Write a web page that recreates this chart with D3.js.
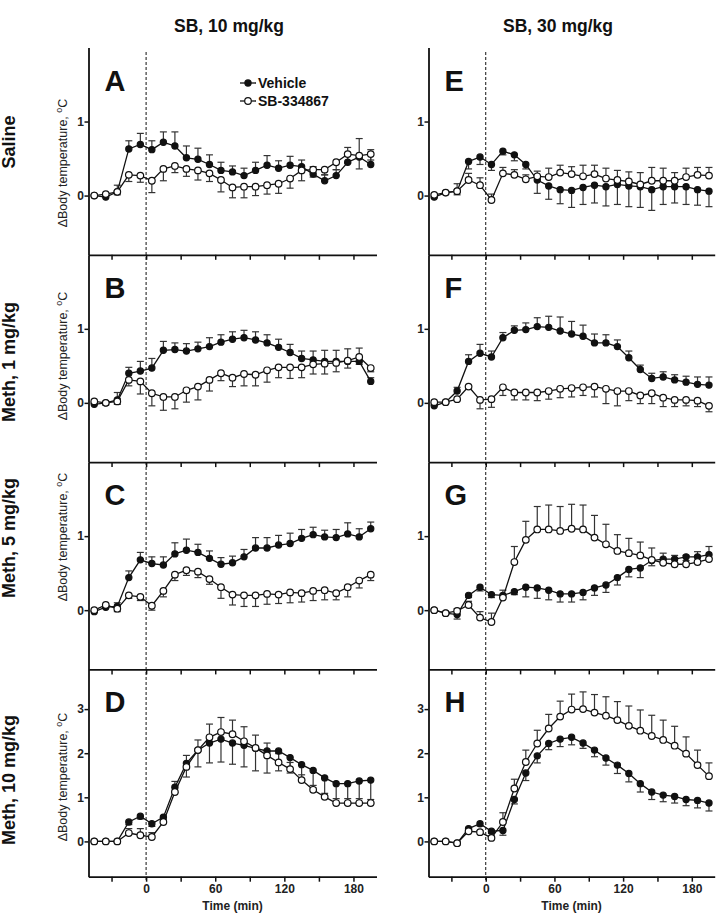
<!DOCTYPE html>
<html><head><meta charset="utf-8">
<script src="https://cdn.jsdelivr.net/npm/d3@7"></script>
<style>body{margin:0;background:#fff} svg{display:block}</style>
</head><body>
<svg id="chart" width="728" height="915"></svg>
<script>
// ---------- data ----------
const times = [-45,-35,-25,-15,-5,5,15,25,35,45,55,65,75,85,95,105,115,125,135,145,155,165,175,185,195];
const columnTitles = ["SB, 10 mg/kg", "SB, 30 mg/kg"];
const rowLabels = ["Saline", "Meth, 1 mg/kg", "Meth, 5 mg/kg", "Meth, 10 mg/kg"];
const panelLetters = ["A","B","C","D","E","F","G","H"];
const seriesNames = ["Vehicle", "SB-334867"];
const xTicks = [-30,0,30,60,90,120,150,180];
const xTickLabels = [0,60,120,180];
const yTicksLow = [0,1];
const yTicksHigh = [0,1,2,3];
const yDomainLow = [-0.8, 2.0];
const yDomainHigh = [-0.8, 3.9];
const yLabel = "\u0394Body temperature, ";
const xLabel = "Time (min)";

// Panel A
const vehA    = [0,-0.02,0.05,0.63,0.69,0.62,0.72,0.67,0.51,0.49,0.42,0.34,0.32,0.27,0.34,0.41,0.37,0.41,0.39,0.29,0.20,0.27,0.45,0.52,0.42];
const vehErrA = [0.01,0.02,0.09,0.11,0.15,0.12,0.14,0.19,0.16,0.15,0.13,0.11,0.08,0.10,0.11,0.13,0.10,0.12,0.09,0.10,0.08,0.08,0.20,0.25,0.20];
const sbA     = [0,0.02,0.05,0.28,0.27,0.20,0.36,0.40,0.36,0.34,0.30,0.21,0.11,0.12,0.12,0.14,0.16,0.23,0.34,0.35,0.35,0.45,0.56,0.54,0.56];
const sbErrA  = [0.01,0.02,0.04,0.09,0.09,0.16,0.16,0.09,0.10,0.13,0.11,0.16,0.14,0.15,0.12,0.12,0.13,0.13,0.14,0.10,0.07,0.10,0.12,0.18,0.08];
// Panel B
const vehB    = [-0.02,0.0,0.04,0.40,0.43,0.47,0.71,0.72,0.70,0.73,0.76,0.82,0.86,0.88,0.85,0.81,0.75,0.68,0.60,0.58,0.56,0.56,0.56,0.56,0.29];
const vehErrB = [0.01,0.02,0.10,0.08,0.13,0.13,0.12,0.09,0.10,0.09,0.12,0.10,0.10,0.10,0.11,0.11,0.11,0.11,0.10,0.12,0.15,0.15,0.17,0.18,0.05];
const sbB     = [0.02,0.0,0.02,0.31,0.29,0.13,0.08,0.08,0.17,0.22,0.31,0.40,0.34,0.39,0.38,0.44,0.48,0.48,0.48,0.52,0.53,0.54,0.57,0.62,0.47];
const sbErrB  = [0.01,0.03,0.04,0.08,0.17,0.17,0.18,0.16,0.16,0.18,0.15,0.10,0.12,0.16,0.15,0.16,0.14,0.15,0.14,0.13,0.14,0.12,0.10,0.10,0.05];
// Panel C
const vehC    = [-0.02,0.04,0.05,0.44,0.68,0.63,0.61,0.76,0.81,0.78,0.70,0.62,0.64,0.72,0.84,0.84,0.88,0.90,0.97,1.02,0.99,0.98,1.03,0.99,1.10];
const vehErrC = [0.01,0.02,0.05,0.09,0.10,0.09,0.11,0.15,0.15,0.11,0.10,0.09,0.09,0.10,0.14,0.14,0.13,0.14,0.12,0.10,0.09,0.11,0.15,0.11,0.09];
const sbC     = [0.0,0.07,0.02,0.20,0.18,0.06,0.26,0.48,0.54,0.52,0.42,0.31,0.21,0.20,0.20,0.22,0.21,0.24,0.23,0.26,0.27,0.23,0.31,0.40,0.48];
const sbErrC  = [0.01,0.03,0.04,0.04,0.05,0.06,0.08,0.08,0.07,0.08,0.07,0.15,0.14,0.15,0.15,0.14,0.12,0.14,0.12,0.13,0.13,0.09,0.13,0.10,0.08];
// Panel D
const vehD    = [0,0,0,0.44,0.57,0.40,0.55,1.23,1.77,2.07,2.23,2.32,2.23,2.18,2.11,2.05,2.05,1.90,1.74,1.61,1.44,1.31,1.31,1.37,1.39];
const vehErrD = [0.01,0.01,0.02,0.06,0.06,0.06,0.06,0.12,0.31,0.38,0.45,0.52,0.48,0.49,0.51,0.50,0.45,0.35,0.35,0.40,0.45,0.45,0.45,0.50,0.52];
const sbD     = [0,0,0,0.19,0.14,0.10,0.44,1.12,1.69,2.07,2.36,2.48,2.43,2.27,2.12,1.95,1.79,1.64,1.39,1.17,1.01,0.87,0.87,0.87,0.87];
const sbErrD  = [0.01,0.01,0.02,0.10,0.15,0.10,0.10,0.24,0.26,0.23,0.30,0.33,0.32,0.33,0.29,0.28,0.20,0.15,0.12,0.10,0.08,0.10,0.10,0.10,0.08];
// Panel E
const vehE    = [-0.02,0.04,0.06,0.46,0.52,0.42,0.60,0.55,0.42,0.21,0.13,0.08,0.07,0.11,0.14,0.12,0.15,0.13,0.12,0.08,0.12,0.12,0.12,0.08,0.06];
const vehErrE = [0.01,0.02,0.05,0.10,0.10,0.08,0.05,0.08,0.06,0.18,0.18,0.19,0.23,0.23,0.24,0.26,0.27,0.28,0.28,0.28,0.24,0.22,0.24,0.21,0.21];
const sbE     = [0.01,0.04,0.06,0.21,0.14,-0.06,0.30,0.28,0.22,0.26,0.25,0.31,0.29,0.26,0.29,0.23,0.21,0.19,0.15,0.20,0.20,0.20,0.25,0.28,0.27];
const sbErrE  = [0.01,0.02,0.10,0.09,0.10,0.08,0.08,0.07,0.06,0.07,0.12,0.10,0.10,0.15,0.12,0.14,0.13,0.13,0.16,0.18,0.17,0.11,0.12,0.10,0.11];
// Panel F
const vehF    = [-0.04,0.01,0.16,0.56,0.67,0.62,0.88,0.98,0.99,1.03,1.02,0.97,0.93,0.90,0.81,0.81,0.76,0.61,0.45,0.33,0.35,0.31,0.28,0.25,0.24];
const vehErrF = [0.01,0.02,0.05,0.09,0.12,0.08,0.07,0.06,0.09,0.12,0.15,0.19,0.17,0.15,0.12,0.11,0.09,0.09,0.06,0.07,0.07,0.07,0.08,0.10,0.11];
const sbF     = [0.01,0.01,0.05,0.22,0.04,0.05,0.21,0.14,0.14,0.14,0.16,0.19,0.20,0.21,0.22,0.19,0.16,0.16,0.10,0.13,0.07,0.04,0.04,0.03,-0.04];
const sbErrF  = [0.01,0.01,0.02,0.03,0.12,0.11,0.11,0.10,0.10,0.11,0.11,0.12,0.12,0.11,0.14,0.20,0.20,0.13,0.11,0.14,0.12,0.09,0.08,0.08,0.08];
// Panel G
const vehG    = [0.0,-0.04,-0.06,0.20,0.31,0.21,0.20,0.25,0.31,0.30,0.27,0.22,0.22,0.24,0.30,0.34,0.44,0.55,0.57,0.67,0.69,0.69,0.72,0.72,0.75];
const vehErrG = [0.01,0.02,0.06,0.03,0.05,0.04,0.03,0.04,0.13,0.14,0.13,0.11,0.11,0.10,0.10,0.10,0.10,0.10,0.13,0.07,0.05,0.05,0.05,0.05,0.05];
const sbG     = [0.0,-0.04,-0.01,0.07,-0.10,-0.16,0.17,0.65,0.95,1.09,1.09,1.07,1.10,1.09,0.98,0.89,0.80,0.77,0.74,0.68,0.64,0.62,0.62,0.65,0.69];
const sbErrG  = [0.01,0.02,0.03,0.05,0.08,0.12,0.10,0.21,0.25,0.31,0.33,0.33,0.33,0.33,0.30,0.27,0.22,0.20,0.18,0.16,0.13,0.12,0.12,0.14,0.17];
// Panel H
const vehH    = [0,0,-0.04,0.29,0.40,0.23,0.25,0.95,1.55,1.94,2.22,2.32,2.36,2.23,2.07,1.89,1.73,1.54,1.31,1.12,1.05,1.02,0.95,0.93,0.87];
const vehErrH = [0.01,0.01,0.04,0.03,0.05,0.05,0.11,0.10,0.17,0.16,0.14,0.17,0.17,0.12,0.15,0.16,0.19,0.19,0.19,0.17,0.15,0.15,0.14,0.17,0.18];
const sbH     = [0,0,-0.04,0.23,0.21,0.08,0.44,1.20,1.80,2.22,2.56,2.83,2.99,3.00,2.92,2.85,2.75,2.62,2.51,2.39,2.30,2.17,1.99,1.73,1.48];
const sbErrH  = [0.01,0.01,0.02,0.03,0.03,0.04,0.21,0.21,0.27,0.30,0.32,0.35,0.35,0.39,0.41,0.43,0.42,0.45,0.47,0.47,0.45,0.44,0.38,0.34,0.30];

// error-bar direction per panel for Vehicle (SB uses the opposite): 1 = above, -1 = below
const vehErrDir = [1,1,1,-1,-1,1,-1,-1];

// ---------- layout ----------
const W = 728, H = 915;
const font = "'Liberation Sans', Arial, Helvetica, sans-serif";
const colRange = [[88.5, 376.5], [428.5, 714.7]];
const top0 = 47.5, panelH = 207.3;
const titleX = [229, 558];
const rowLabelY = [142, 362, 538, 780];
const yLabelY = [163, 356, 537, 777];

const panels = [
  {veh: vehA, ve: vehErrA, sb: sbA, se: sbErrA},
  {veh: vehB, ve: vehErrB, sb: sbB, se: sbErrB},
  {veh: vehC, ve: vehErrC, sb: sbC, se: sbErrC},
  {veh: vehD, ve: vehErrD, sb: sbD, se: sbErrD},
  {veh: vehE, ve: vehErrE, sb: sbE, se: sbErrE},
  {veh: vehF, ve: vehErrF, sb: sbF, se: sbErrF},
  {veh: vehG, ve: vehErrG, sb: sbG, se: sbErrG},
  {veh: vehH, ve: vehErrH, sb: sbH, se: sbErrH}
];

const svg = d3.select("#chart").attr("font-family", font);
svg.append("rect").attr("width", W).attr("height", H).attr("fill", "#fff");

// column titles
columnTitles.forEach((t, c) => {
  svg.append("text").attr("x", titleX[c]).attr("y", 32)
    .attr("text-anchor", "middle").attr("font-size", 17.5).attr("font-weight", "bold")
    .attr("fill", "#111").text(t);
});

// row labels and y labels
rowLabels.forEach((t, r) => {
  svg.append("text").attr("transform", `translate(15,${rowLabelY[r]}) rotate(-90)`)
    .attr("text-anchor", "middle").attr("font-size", 18).attr("font-weight", "bold")
    .attr("fill", "#111").text(t);
  const yl = svg.append("text").attr("transform", `translate(67,${yLabelY[r]}) rotate(-90)`)
    .attr("text-anchor", "middle").attr("font-size", 12.5).attr("fill", "#222");
  yl.append("tspan").text(yLabel);
  yl.append("tspan").attr("font-size", 9).attr("dy", -5).text("o");
  yl.append("tspan").attr("dy", 5).text("C");
});

panels.forEach((p, i) => {
  const col = Math.floor(i / 4), row = i % 4;
  const y0 = top0 + row * panelH, y1 = y0 + panelH;
  const x = d3.scaleLinear().domain([-50, 200]).range(colRange[col]);
  const high = row === 3;
  const y = d3.scaleLinear().domain(high ? yDomainHigh : yDomainLow).range([y1, y0]);
  const g = svg.append("g");

  // axes
  const xa = d3.axisBottom(x).tickValues(xTicks).tickSize(5).tickSizeOuter(0)
    .tickFormat(d => (row === 3 && xTickLabels.includes(d)) ? d : "");
  const gx = g.append("g").attr("transform", `translate(0,${y1})`).call(xa);
  const ya = d3.axisLeft(y).tickValues(high ? yTicksHigh : yTicksLow).tickSize(4).tickSizeOuter(0)
    .tickFormat(d3.format("d"));
  const gy = g.append("g").attr("transform", `translate(${colRange[col][0]},0)`).call(ya);
  [gx, gy].forEach(ax => {
    ax.select(".domain").attr("stroke", "#111").attr("stroke-width", 1.8);
    ax.selectAll(".tick line").attr("stroke", "#111").attr("stroke-width", 1.5);
    ax.selectAll(".tick text").attr("font-family", font).attr("font-size", 12)
      .attr("font-weight", "bold").attr("fill", "#222");
  });
  gy.selectAll(".tick text").attr("x", -4.5);
  gx.selectAll(".tick text").attr("y", 8);

  if (row === 3) {
    g.append("text").attr("x", (colRange[col][0] + colRange[col][1]) / 2).attr("y", 910)
      .attr("text-anchor", "middle").attr("font-size", 12).attr("font-weight", "bold")
      .attr("fill", "#222").text(xLabel);
  }

  // panel letter
  g.append("text").attr("x", colRange[col][0] + 16).attr("y", y0 + 43)
    .attr("font-size", 29).attr("font-weight", "bold").attr("fill", "#111").text(panelLetters[i]);

  const series = [
    {v: p.veh, e: p.ve, dir: vehErrDir[i], filled: true},
    {v: p.sb, e: p.se, dir: -vehErrDir[i], filled: false}
  ];
  // error bars
  series.forEach(s => {
    const eb = g.append("g").attr("stroke", "#333").attr("stroke-width", 1.2).attr("fill", "none");
    times.forEach((t, k) => {
      const yv = y(s.v[k]), ye = y(s.v[k] + s.dir * s.e[k]), xv = x(t);
      eb.append("line").attr("x1", xv).attr("x2", xv).attr("y1", yv).attr("y2", ye);
      eb.append("line").attr("x1", xv - 3.5).attr("x2", xv + 3.5).attr("y1", ye).attr("y2", ye);
    });
  });
  // lines
  const line = d3.line().x((d, k) => x(times[k])).y(d => y(d));
  series.forEach(s => {
    g.append("path").datum(s.v).attr("d", line).attr("fill", "none")
      .attr("stroke", "#111").attr("stroke-width", 1.3);
  });
  // markers (open drawn after filled)
  series.forEach(s => {
    g.append("g").selectAll("circle").data(s.v).join("circle")
      .attr("cx", (d, k) => x(times[k])).attr("cy", d => y(d))
      .attr("r", s.filled ? 3.1 : 3.3)
      .attr("fill", s.filled ? "#111" : "#fff")
      .attr("stroke", "#111").attr("stroke-width", 1.2);
  });

  // legend in panel A
  if (i === 0) {
    const lg = g.append("g");
    seriesNames.forEach((n, k) => {
      const ly = 83 + k * 18;
      lg.append("line").attr("x1", 240).attr("x2", 256).attr("y1", ly).attr("y2", ly)
        .attr("stroke", "#111").attr("stroke-width", 1.3);
      lg.append("circle").attr("cx", 248).attr("cy", ly).attr("r", k === 0 ? 3.1 : 3.3)
        .attr("fill", k === 0 ? "#111" : "#fff").attr("stroke", "#111").attr("stroke-width", 1.2);
      lg.append("text").attr("x", 258).attr("y", ly + 5).attr("font-size", 14)
        .attr("font-weight", "bold").attr("fill", "#111").text(n);
    });
  }
});

// dashed line at time 0 spanning both column stacks
[0, 1].forEach(c => {
  const x = d3.scaleLinear().domain([-50, 200]).range(colRange[c]);
  svg.append("line").attr("x1", x(0)).attr("x2", x(0)).attr("y1", 52).attr("y2", 881)
    .attr("stroke", "#111").attr("stroke-width", 1).attr("stroke-dasharray", "3,2");
});
</script>
</body></html>
